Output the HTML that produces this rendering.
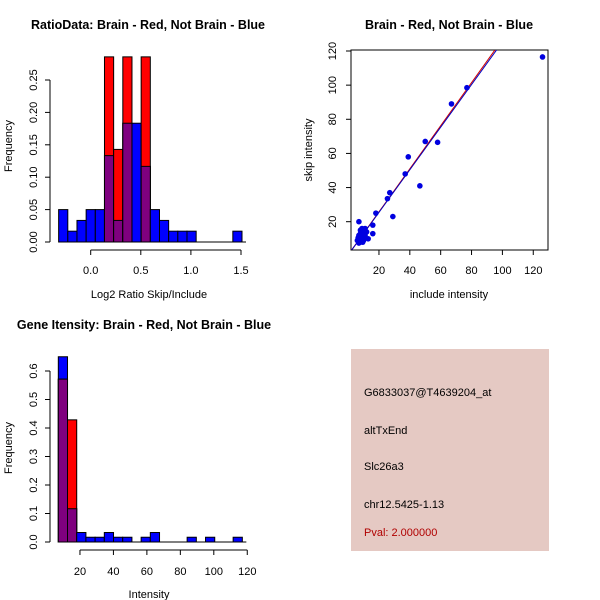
<!DOCTYPE html>
<html><head><meta charset="utf-8"><style>
body{margin:0;background:#fff}
svg{display:block;font-family:"Liberation Sans",Arial,sans-serif}
text{font-size:11px;fill:#000}
.t{font-weight:bold;font-size:12.5px}
</style></head><body>
<svg id="s" width="600" height="600" viewBox="0 0 600 600">
<rect width="600" height="600" fill="#fff"/>
<text class="t" x="148" y="29" text-anchor="middle">RatioData: Brain - Red, Not Brain - Blue</text>
<text class="t" x="449" y="29" text-anchor="middle">Brain - Red, Not Brain - Blue</text>
<text class="t" x="144" y="329" text-anchor="middle">Gene Itensity: Brain - Red, Not Brain - Blue</text>
<text x="149" y="298" text-anchor="middle">Log2 Ratio Skip/Include</text>
<text x="12" y="146" text-anchor="middle" transform="rotate(-90 12 146)">Frequency</text>
<text x="449" y="298" text-anchor="middle">include intensity</text>
<text x="312" y="150" text-anchor="middle" transform="rotate(-90 312 150)">skip intensity</text>
<text x="149" y="598" text-anchor="middle">Intensity</text>
<text x="12" y="448" text-anchor="middle" transform="rotate(-90 12 448)">Frequency</text>
<g>
<rect x="351" y="349" width="198" height="202" fill="#e5c9c3"/>
<text x="364" y="396">G6833037@T4639204_at</text>
<text x="364" y="434">altTxEnd</text>
<text x="364" y="470">Slc26a3</text>
<text x="364" y="508">chr12.5425-1.13</text>
<text x="364" y="536" style="fill:#b00000">Pval: 2.000000</text>
</g>
</svg>
<script>
// Ratio histogram data
const ratioStart = -0.32;
const ratioBinW = 0.0915;
const ratioBlue = [0.05,0.0167,0.0333,0.05,0.05,0.1333,0.0333,0.1833,0.1833,0.1167,0.05,0.0333,0.0167,0.0167,0.0167,0,0,0,0,0.0167];
const ratioRed  = [0,0,0,0,0,0.2857,0.1429,0.2857,0,0.2857,0,0,0,0,0,0,0,0,0,0];
const ratioXTicks = [0,0.5,1,1.5];
const ratioXLabels = ["0.0","0.5","1.0","1.5"];
const ratioYTicks = [0,0.05,0.1,0.15,0.2,0.25];
const ratioYLabels = ["0.00","0.05","0.10","0.15","0.20","0.25"];
// Intensity histogram data
const intStart = 7.06;
const intBinW = 5.5;
const intBlue = [0.65,0.1167,0.0333,0.0167,0.0167,0.0333,0.0167,0.0167,0,0.0167,0.0333,0,0,0,0.0167,0,0.0167,0,0,0.0167];
const intRed  = [0.5714,0.4286,0,0,0,0,0,0,0,0,0,0,0,0,0,0,0,0,0,0];
const intXTicks = [20,40,60,80,100,120];
const intYTicks = [0,0.1,0.2,0.3,0.4,0.5,0.6];
const intYLabels = ["0.0","0.1","0.2","0.3","0.4","0.5","0.6"];
// Scatter data
const includeVals = [126,77,67,50,58,39,37,46.5,27,25.5,18,29,16,16,13,7,9,8,10,12,7,8,9,7,8,10,11,9,7,6,8,10,6.5,11,9.5];
const skipVals    = [116.5,98.5,89,67,66.5,58,48,41,37,33.5,25,23,18,13,10,20,16,15,14,14,12,11,10,9,8,9,12,13,7.5,9,13,11,10.5,16,8];
const fitSlopes = [1.262,1.248];
const fitIntercepts = [0.5,0.5];
const fitColors = ["#d00000","#0000c0"];
const scXTicks = [20,40,60,80,100,120];
const scYTicks = [20,40,60,80,100,120];

const svg = document.getElementById('s');
const NS = 'http://www.w3.org/2000/svg';
function mk(tag, attrs){const e=document.createElementNS(NS,tag);for(const k in attrs)e.setAttribute(k,attrs[k]);svg.appendChild(e);return e;}

function hist(xs, ys, start, w, blue, red, xt, xl, yt, yl, xaxisY, yaxisX, xlabY, prefix){
  for(let i=0;i<blue.length;i++){
    const x0=xs(start+i*w), x1=xs(start+(i+1)*w);
    const b=blue[i], r=red[i];
    if(b>0){const e=mk('rect',{x:x0,y:ys(b),width:x1-x0,height:ys(0)-ys(b),fill:'#0000ff',stroke:'#000','stroke-width':1});
      
      }
    if(r>0){const e=mk('rect',{x:x0,y:ys(r),width:x1-x0,height:ys(0)-ys(r),fill:'#ff0000',stroke:'#000','stroke-width':1});
      
      }
    const m=Math.min(b,r);
    if(m>0){const e=mk('rect',{x:x0,y:ys(m),width:x1-x0,height:ys(0)-ys(m),fill:'#7f007f',stroke:'#000','stroke-width':1});
      
      }
  }
  const base=mk('line',{x1:xs(start),x2:xs(start+blue.length*w)+4,y1:ys(0),y2:ys(0),stroke:'#000'});
  
  
  const xa=mk('line',{x1:xs(xt[0]),x2:xs(xt[xt.length-1]),y1:xaxisY,y2:xaxisY,stroke:'#000'});
  
  
  xt.forEach((v,i)=>{mk('line',{x1:xs(v),x2:xs(v),y1:xaxisY,y2:xaxisY+5,stroke:'#000'});
    const t=mk('text',{x:xs(v),y:xlabY,'text-anchor':'middle'});t.textContent=xl[i];
    
    });
  const ya=mk('line',{x1:yaxisX,x2:yaxisX,y1:ys(yt[0]),y2:ys(yt[yt.length-1]),stroke:'#000'});
  
  
  yt.forEach((v,i)=>{mk('line',{x1:yaxisX-5,x2:yaxisX,y1:ys(v),y2:ys(v),stroke:'#000'});
    const tx=yaxisX-13;
    const t=mk('text',{x:tx,y:ys(v),'text-anchor':'middle',transform:`rotate(-90 ${tx} ${ys(v)})`});t.textContent=yl[i];
    
    });
}

// ratio plot scales
const rx=v=>90.7+v*100.2, ry=v=>242-v*648;
hist(rx,ry,ratioStart,ratioBinW,ratioBlue,ratioRed,ratioXTicks,ratioXLabels,ratioYTicks,ratioYLabels,250,50,274,'ratio');
// intensity plot scales
const ix=v=>46.5+v*1.673, iy=v=>542-v*285;
hist(ix,iy,intStart,intBinW,intBlue,intRed,intXTicks,intXTicks.map(String),intYTicks,intYLabels,550,50,575,'intensity');

// scatter
const sx=v=>348.1+v*1.543, sy=v=>221.7-(v-20)*1.707;
const box=mk('rect',{x:351,y:50,width:197,height:200,fill:'none',stroke:'#000'});


scXTicks.forEach(v=>{mk('line',{x1:sx(v),x2:sx(v),y1:250,y2:255,stroke:'#000'});
  const t=mk('text',{x:sx(v),y:274,'text-anchor':'middle'});t.textContent=v;
  
  });
scYTicks.forEach(v=>{mk('line',{x1:346,x2:351,y1:sy(v),y2:sy(v),stroke:'#000'});
  const t=mk('text',{x:336,y:sy(v),'text-anchor':'middle',transform:`rotate(-90 336 ${sy(v)})`});t.textContent=v;
  
  });
const clip=document.createElementNS(NS,'clipPath');clip.setAttribute('id','sc');
const cr=document.createElementNS(NS,'rect');cr.setAttribute('x',351);cr.setAttribute('y',50);cr.setAttribute('width',197);cr.setAttribute('height',200);
clip.appendChild(cr);svg.appendChild(clip);
fitSlopes.forEach((m,i)=>{const xa=0,xb=110;
  const l=mk('line',{x1:sx(xa),y1:sy(fitIntercepts[i]+m*xa),x2:sx(xb),y2:sy(fitIntercepts[i]+m*xb),stroke:fitColors[i],'stroke-width':1,'clip-path':'url(#sc)'});
  
  });
includeVals.forEach((v,i)=>{const c=mk('circle',{cx:sx(v),cy:sy(skipVals[i]),r:2.8,fill:'#0000e0','clip-path':'url(#sc)'});
  
  });
</script>
</body></html>
